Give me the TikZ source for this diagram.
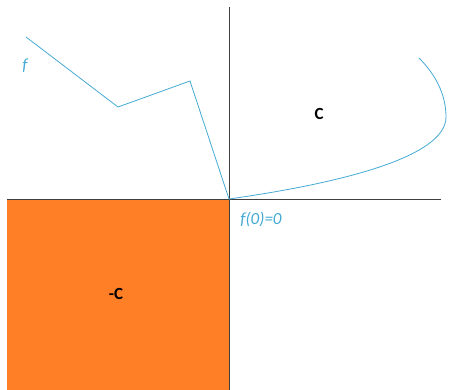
\documentclass[tikz,border=0pt]{standalone}
\usepackage{fontspec}
\setmainfont{Carlito}
\definecolor{fblue}{HTML}{45AAD2}
\definecolor{forange}{HTML}{FF7F27}
\definecolor{axgray}{HTML}{404040}
\begin{document}
\begin{tikzpicture}[x=1pt,y=-1pt,
  axis/.style={draw=axgray,line width=0.9pt},
  fline/.style={draw=fblue,line width=0.8pt},
  lbl/.style={font=\fontsize{17}{20}\selectfont\bfseries,text=black,inner sep=0pt},
  flbl/.style={font=\fontsize{17}{20}\selectfont\itshape,text=fblue,inner sep=0pt}]
\useasboundingbox (0,0) rectangle (449,390);
\fill[white] (0,0) rectangle (449,390);
\coordinate (O) at (229,199);
\coordinate (xl) at (7,199);
\coordinate (xr) at (441,199);
\coordinate (yt) at (229,7);
\coordinate (yb) at (229,390);
\coordinate (sq) at (7,390);
\fill[forange] (sq) rectangle (O);
\draw[axis] (xl) -- (xr);
\draw[axis] (yt) -- (yb);
\coordinate (p1) at (26,37);
\coordinate (p2) at (118,107);
\coordinate (p3) at (190,81);
\coordinate (q1) at (446,117);
\coordinate (q2) at (419,58);
\draw[fline] (p1) -- (p2) -- (p3) -- (O);
\draw[fline] (O) .. controls (335,184) and (446,158) .. (q1)
  .. controls (446,95) and (436,75) .. (q2);
\node[flbl] (flab) at (25,66) {f};
\node[flbl] (f0) at (261,219) {f(0)=0};
\node[lbl] (C) at (319,114) {C};
\node[lbl] (mC) at (116,294) {-C};
\end{tikzpicture}
\end{document}
